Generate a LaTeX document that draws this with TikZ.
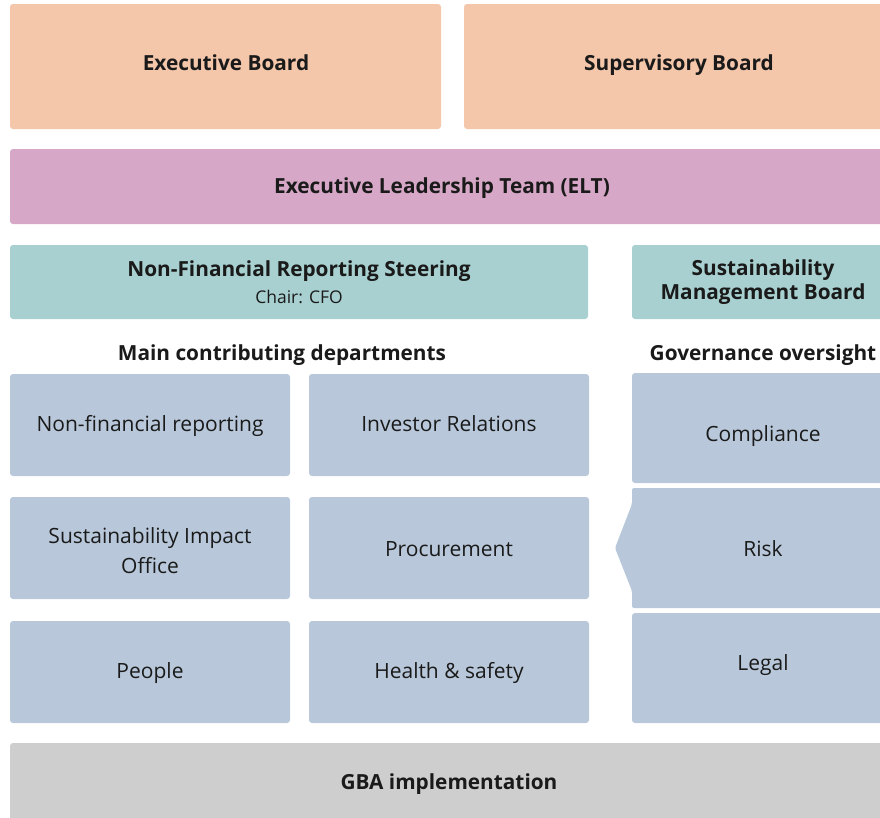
\documentclass[tikz,border=0pt]{standalone}
\usepackage{fontspec}
\setmainfont{Open Sans}
\begin{document}
\definecolor{boardpeach}{HTML}{F4C7AB}
\definecolor{eltmauve}{HTML}{D6A7C6}
\definecolor{steerteal}{HTML}{A8D0D0}
\definecolor{deptblue}{HTML}{B8C8DA}
\definecolor{gbagrey}{HTML}{CECECE}
\definecolor{inkblack}{HTML}{1A1A1A}
\begin{tikzpicture}[x=1pt,y=-1pt,
  box/.style={rounded corners=3pt},
  head/.style={font=\fontsize{20.8}{24}\selectfont\bfseries, text=inkblack, align=center,
    inner sep=0pt, text height=15pt, text depth=0pt},
  body/.style={font=\fontsize{21}{30}\selectfont, text=inkblack, align=center,
    inner sep=0pt, text height=15pt, text depth=0pt},
  small/.style={font=\fontsize{17.5}{19}\selectfont, text=inkblack,
    inner sep=0pt, text height=12.5pt, text depth=0pt},
  twoline/.style={text height=, text depth=}]
\useasboundingbox (0,0) rectangle (880,817);
\clip (0,0) rectangle (880,817);

% boards
\fill[box, boardpeach] (10,4) rectangle (441,129);
\fill[box, boardpeach] (464,4) rectangle (900,129);
\node[head] (exec) at (226,63) {Executive Board};
\node[head] (super) at (679,63) {Supervisory Board};

% executive leadership team
\fill[box, eltmauve] (10,149) rectangle (900,224);
\node[head] (elt) at (442,186) {Executive Leadership Team (ELT)};

% steering bodies
\fill[box, steerteal] (10,245) rectangle (588,319);
\node[head] (nfrs) at (299,269) {Non-Financial Reporting Steering};
\node[small] (chair) at (299,297) {Chair: CFO};
\fill[box, steerteal] (632,245) rectangle (900,319);
\node[head, twoline] (smb) at (763,282.5) {Sustainability\\Management Board};

% column headings
\node[head] (mcd) at (282,353) {Main contributing departments};
\node[head] (gov) at (763,353) {Governance oversight};

% contributing departments
\foreach \x/\y/\dy/\name/\txt in {
  10/374/50/nfr/Non-financial reporting,
  309/374/50/ir/Investor Relations,
  309/497/52/proc/Procurement,
  10/621/50/ppl/People,
  309/621/50/hs/Health \& safety}{
  \fill[box, deptblue] (\x,\y) rectangle ++(280,102);
  \node[body] (\name) at (\x+140,\y+\dy) {\txt};
}
\fill[box, deptblue] (10,497) rectangle ++(280,102);
\node[body, twoline] (sio) at (150,551) {Sustainability Impact\\Office};

% governance oversight functions
\fill[box, deptblue] (632,373) rectangle (900,483);
\node[body] (comp) at (763,433.5) {Compliance};
\fill[deptblue, rounded corners=2pt] (632,488) -- (900,488) -- (900,608) -- (632,608)
  -- (632,591) -- (615,548) -- (632,504) -- cycle;
\node[body] (risk) at (763,548.5) {Risk};
\fill[box, deptblue] (632,613) rectangle (900,723);
\node[body] (legal) at (763,662.5) {Legal};

% implementation
\fill[box, gbagrey] (10,743) rectangle (900,840);
\node[head] (gba) at (449,782) {GBA implementation};
\end{tikzpicture}
\end{document}
